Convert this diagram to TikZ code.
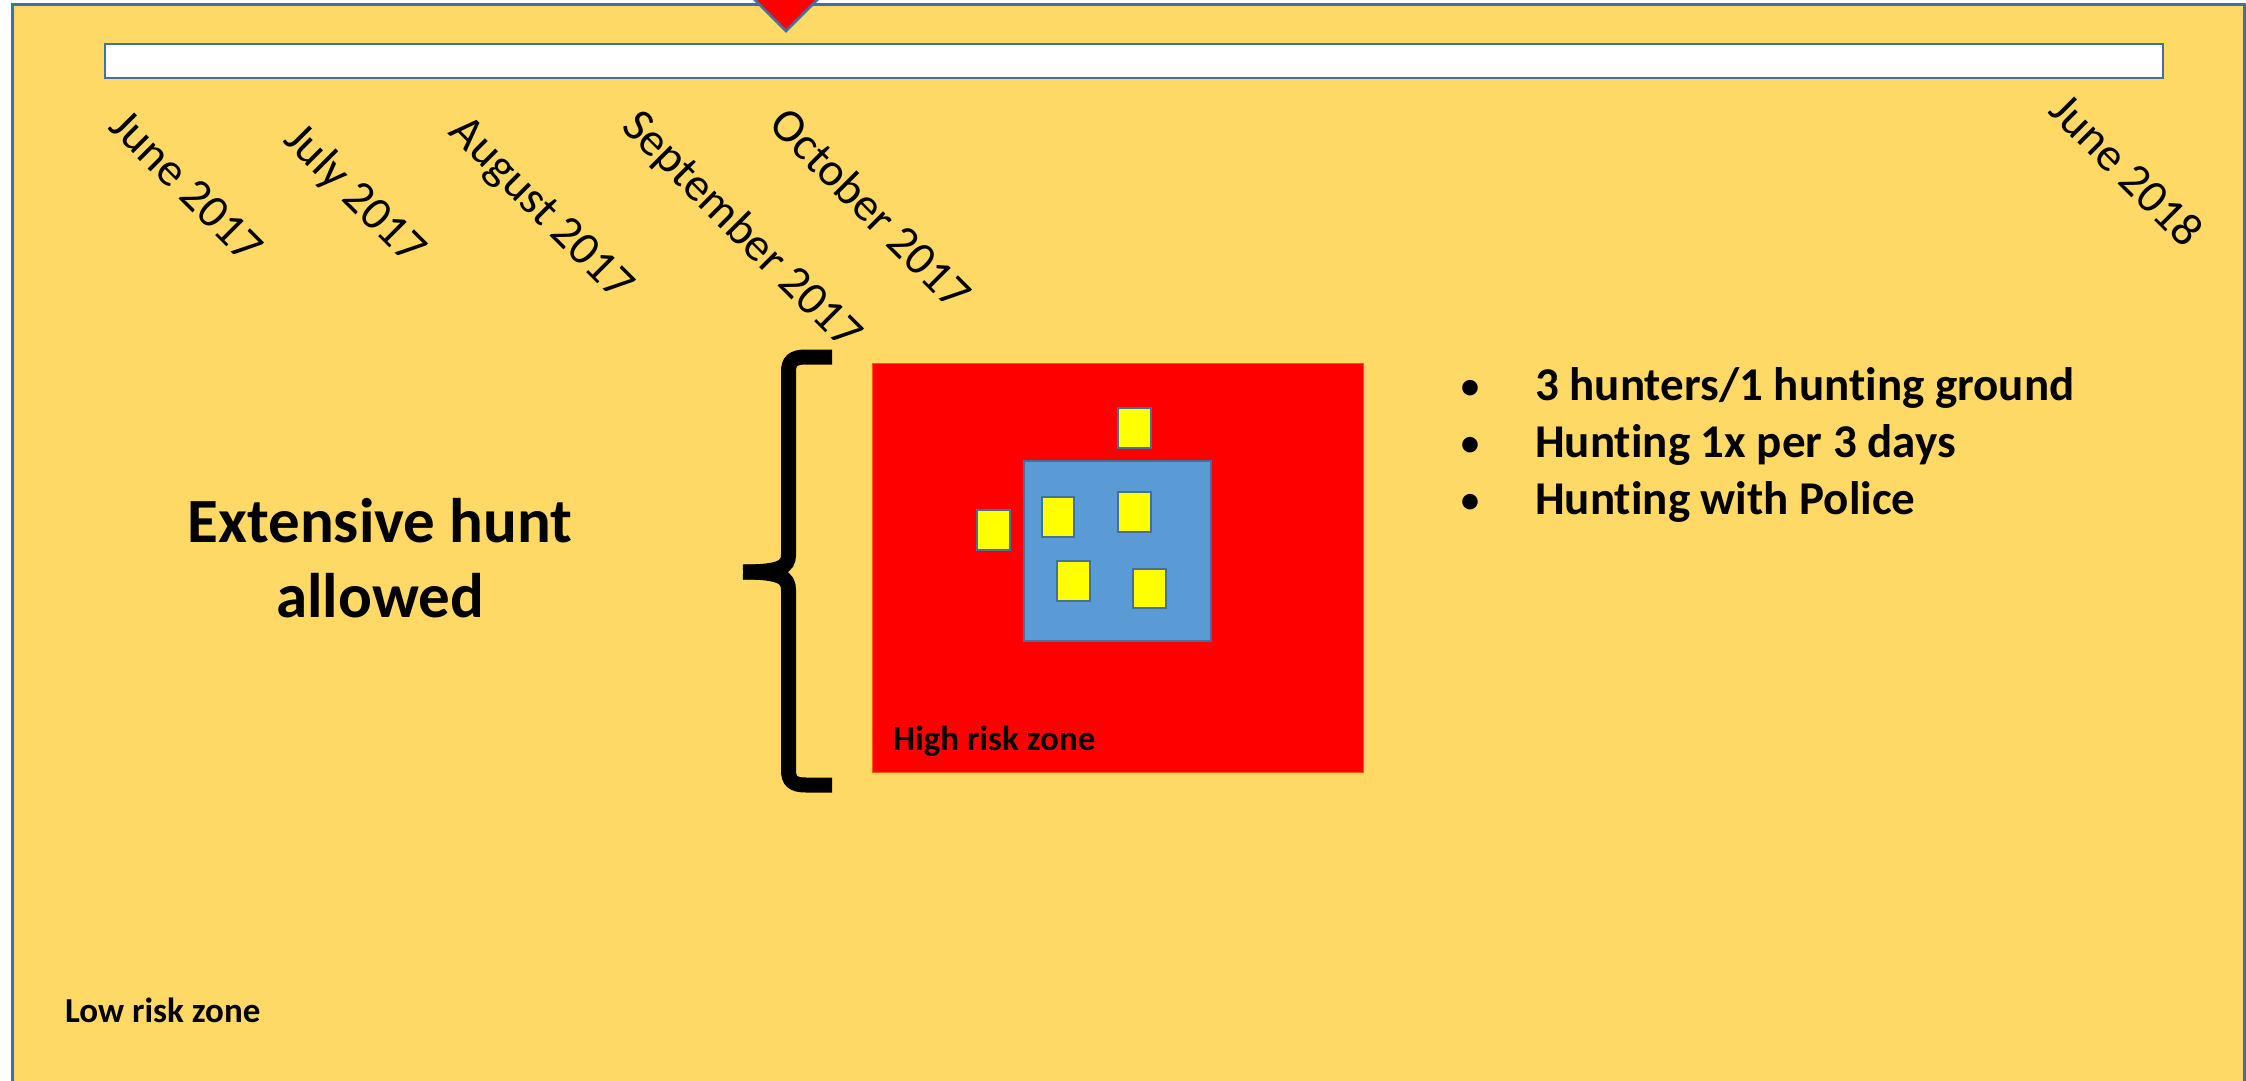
\documentclass[tikz,border=0pt]{standalone}
\usepackage{fontspec}
\setmainfont{Carlito}[Ligatures=NoCommon]
\definecolor{bgyellow}{HTML}{FFD966}
\definecolor{edgeblue}{HTML}{41719C}
\definecolor{fillblue}{HTML}{5B9BD5}
\definecolor{hunter}{HTML}{FFFF00}
\begin{document}
\begin{tikzpicture}[x=1pt,y=-1pt,
  datelabel/.style={rotate=-45, inner sep=0pt, font=\fontsize{47}{56}\selectfont},
  bullettext/.style={anchor=base west, inner sep=0pt, font=\bfseries\fontsize{47}{56}\selectfont},
  bulletdot/.style={anchor=base, inner sep=0pt, font=\fontsize{44}{56}\selectfont},
  bigtext/.style={anchor=base, inner sep=0pt, font=\bfseries\fontsize{63}{75}\selectfont},
  zonetext/.style={anchor=base west, inner sep=0pt, font=\bfseries\fontsize{35}{42}\selectfont},
  hunterbox/.style={fill=hunter, draw=edgeblue, line width=2.5pt},
  bracestroke/.style={line width=15pt, line cap=butt, black}
]
\useasboundingbox (0,0) rectangle (2246,1081);
\clip (0,0) rectangle (2246,1081);
\fill[white] (0,0) rectangle (2246,1081);
% outer low risk zone
\draw[fill=bgyellow, draw=edgeblue, line width=3pt] (12,5) rectangle (2244,1100);
% time bar
\draw[fill=white, draw=edgeblue, line width=2.5pt] (105,44) rectangle (2163,78);
% marker
\draw[fill=red, draw=edgeblue, line width=2.5pt, line join=miter] (786,31) -- (738,-17) -- (834,-17) -- cycle;
% date labels
\node[datelabel] (d1) at (187,186) {June 2017};
\node[datelabel] (d2) at (354,195) {July 2017};
\node[datelabel] (d3) at (540,210) {August 2017};
\node[datelabel] (d4) at (741,231) {September 2017};
\node[datelabel] (d5) at (871,208) {October 2017};
\node[datelabel] (d6) at (2127,170) {June 2018};
% brace
\draw[bracestroke] (832,357) -- (806,357) .. controls (793,357) and (788.5,361) .. (788.5,372) -- (788.5,555) .. controls (788.5,567) and (780,572) .. (743,572);
\draw[bracestroke] (743,572) .. controls (780,572) and (788.5,577) .. (788.5,590) -- (788.5,770) .. controls (788.5,781) and (793,785) .. (806,785) -- (832,785);
% high risk zone
\draw[fill=red, draw=orange!70!red, line width=1pt] (872,363) rectangle (1363,772);
\draw[fill=fillblue, draw=edgeblue, line width=2.5pt] (1024,461) rectangle (1211,641);
\draw[hunterbox] (1118,408) rectangle (1151,448);
\draw[hunterbox] (977,510) rectangle (1010,550);
\draw[hunterbox] (1042,497) rectangle (1074,537);
\draw[hunterbox] (1118,492) rectangle (1151,532);
\draw[hunterbox] (1057,561) rectangle (1090,601);
\draw[hunterbox] (1133,569) rectangle (1166,608);
\node[zonetext] (high) at (893,750) {High risk zone};
\node[zonetext] (low) at (65,1022) {Low risk zone};
% big text
\node[bigtext] (ext1) at (380,542) {Extensive hunt};
\node[bigtext] (ext2) at (380,617) {allowed};
% bullets
\node[bulletdot] (b1) at (1470,400) {•};
\node[bulletdot] (b2) at (1470,457) {•};
\node[bulletdot] (b3) at (1470,514) {•};
\node[bullettext] (t1) at (1535,400) {3 hunters/1 hunting ground};
\node[bullettext] (t2) at (1535,457) {Hunting 1x per 3 days};
\node[bullettext] (t3) at (1535,514) {Hunting with Police};
\end{tikzpicture}
\end{document}
